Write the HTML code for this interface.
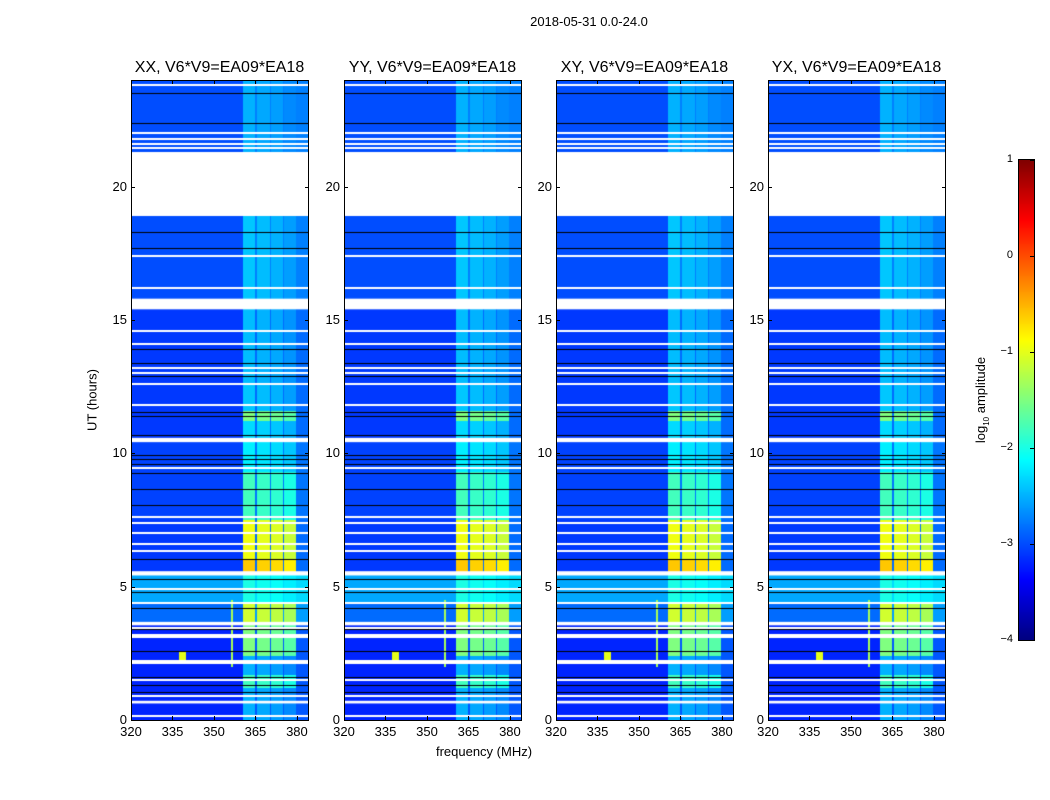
<!DOCTYPE html>
<html><head><meta charset="utf-8"><style>
body{margin:0;background:#fff;}
#root{position:relative;width:1050px;height:800px;background:#fff;font-family:"Liberation Sans",sans-serif;color:#000;overflow:hidden}
.t{position:absolute;white-space:nowrap}
canvas{position:absolute}
.frame{position:absolute;border:1px solid #000;box-sizing:border-box}
.tick{position:absolute;background:#000}
</style></head><body>
<div id="root">
<div class="t" style="left:489px;top:14px;width:200px;text-align:center;font-size:13px">2018-05-31 0.0-24.0</div>
<div class="t" style="left:92px;top:400px;font-size:13px;transform:translate(-50%,-50%) rotate(-90deg);transform-origin:center">UT (hours)</div>
<div class="t" style="left:384px;top:744px;width:200px;text-align:center;font-size:13px">frequency (MHz)</div>
<canvas id="cbar" width="15" height="480" style="left:1019px;top:160px"></canvas>
<div class="frame" style="left:1018px;top:159px;width:17px;height:482px"></div>
<div class="t" style="left:982px;top:400px;font-size:13px;transform:translate(-50%,-50%) rotate(-90deg)">log<sub style="font-size:8px">10</sub> amplitude</div>
</div>
<script>
// ---- data ----
const panelTitles = ["XX, V6*V9=EA09*EA18","YY, V6*V9=EA09*EA18","XY, V6*V9=EA09*EA18","YX, V6*V9=EA09*EA18"];
const xTicks = [320,335,350,365,380];
const yTicks = [0,5,10,15,20];
const cbarTicks = [1,0,-1,-2,-3,-4];
// [t0, t1, background log-amp, rfi log-amp]
const segments = [[0,1.2,-3.2,-2.5],[1.2,1.7,-3.2,-1.8],[1.7,2.4,-3.2,-2.5],[2.4,3.6,-3.2,-1.5],[3.6,4.4,-2.85,-1.1],[4.4,5.5,-2.55,-2.0],[5.5,6.0,-3.1,-0.6],[6.0,7.5,-3.1,-0.95],[7.5,9.3,-3.05,-1.8],[9.3,10.5,-3.05,-2.2],[10.5,11.2,-3.1,-2.3],[11.2,11.6,-3.1,-1.5],[11.6,12.6,-3.1,-2.4],[12.6,15.4,-3.1,-2.45],[15.8,18.9,-3.0,-2.4],[21.3,24,-3.0,-2.5]];
// rfi sub-bands [f0,f1,offset]
const rfiBands = [[360.5,365,0],[365.5,370.2,-0.05],[370.8,374.8,-0.1],[375.2,379.6,-0.2]];
const whiteGaps = [[18.9,21.3],[15.4,15.8],[0.62,0.72],[5.42,5.58],[3.55,3.68],[10.42,10.58]];
const whiteLines = [23.8,22.0,21.8,21.6,21.45,17.4,16.2,14.6,14.1,13.2,13.0,12.6,11.8,9.45,7.6,7.4,7.0,6.6,6.35,4.9,4.4,3.45,3.2,3.1,2.2,2.15,1.5,0.9,0.15];
const blackLines = [23.5,22.4,18.3,17.7,13.9,13.4,12.9,11.55,11.4,10.7,9.95,9.8,9.6,9.25,8.65,8.05,6.05,5.3,4.8,4.2,3.4,2.6,1.6,1.3,1.05];
// narrow features [f0,f1,t0,t1,level]
const features = [[356.2,357.0,2.0,4.5,-1.3],[337.5,339.8,2.2,2.6,-1.0]];

const panelLeft = [131,344,556,768];
const PW=177, PH=640, PT=80;
const fMin=320, fMax=384, tMin=0, tMax=24, vMin=-4, vMax=1;
const xs = f => (f-fMin)/(fMax-fMin)*PW;
const ys = t => PH-(t-tMin)/(tMax-tMin)*PH;

function jet(v){
  let x=Math.max(0,Math.min(1,(v-vMin)/(vMax-vMin)));
  const c=(a)=>Math.max(0,Math.min(1,a));
  const r=c(Math.min(4*x-1.5,-4*x+4.5)), g=c(Math.min(4*x-0.5,-4*x+3.5)), b=c(Math.min(4*x+0.5,-4*x+2.5));
  return [r*255,g*255,b*255];
}
function level(f,t){
  let seg=null;
  for(const s of segments) if(t>=s[0]&&t<s[1]) seg=s;
  if(!seg) return null;
  let v=seg[2];
  if(f>=360.5&&f<384) v=seg[2]+0.25;
  for(const b of rfiBands) if(f>=b[0]&&f<b[1]) v=Math.max(v,seg[3]+b[2]);
  for(const ft of features) if(f>=ft[0]&&f<ft[1]&&t>=ft[2]&&t<ft[3]) v=Math.max(v,ft[4]);
  return v;
}
const root=document.getElementById('root');
function add(tag,cls,style,name,text){
  const e=document.createElement(tag); if(cls)e.className=cls; e.style.cssText=style;
  if(text!==undefined)e.textContent=text; root.appendChild(e); return e;
}
panelLeft.forEach((L,pi)=>{
  const cv=document.createElement('canvas'); cv.width=PW; cv.height=PH;
  cv.style.left=L+'px'; cv.style.top=PT+'px';
  
  
  root.appendChild(cv);
  const ctx=cv.getContext('2d'); const img=ctx.createImageData(PW,PH);
  for(let py=0;py<PH;py++){
    const t=tMax-(py+0.5)/PH*(tMax-tMin);
    for(let px=0;px<PW;px++){
      const f=fMin+(px+0.5)/PW*(fMax-fMin);
      const v=level(f,t); const i=(py*PW+px)*4;
      let c=v===null?[255,255,255]:jet(v);
      img.data[i]=c[0];img.data[i+1]=c[1];img.data[i+2]=c[2];img.data[i+3]=255;
    }
  }
  ctx.putImageData(img,0,0);
  ctx.fillStyle='#fff';
  for(const g of whiteGaps) ctx.fillRect(0,ys(g[1]),PW,ys(g[0])-ys(g[1]));
  for(const w of whiteLines) ctx.fillRect(0,Math.round(ys(w))-1,PW,2);
  ctx.fillStyle='#000';
  for(const b of blackLines) ctx.fillRect(0,Math.round(ys(b)),PW,1);
  const fr=add('div','frame',`left:${L}px;top:${PT}px;width:${PW+1}px;height:${PH+1}px`);
  
  
  const ti=add('div','t',`left:${L-10}px;top:59px;width:${PW+20}px;text-align:center;font-size:16px`,null,panelTitles[pi]);
  
  
  xTicks.forEach(v=>{
    const x=L+xs(v);
    const tk=add('div','tick',`left:${x}px;top:${PT+PH-4}px;width:1px;height:4px`);
    
    
    add('div','tick',`left:${x}px;top:${PT}px;width:1px;height:4px`);
    const lb=add('div','t',`left:${x-20}px;top:${PT+PH+4}px;width:40px;text-align:center;font-size:13px`,null,String(v));
    
    
  });
  yTicks.forEach(v=>{
    const y=PT+ys(v);
    add('div','tick',`left:${L}px;top:${y}px;width:4px;height:1px`);
    add('div','tick',`left:${L+PW-3}px;top:${y}px;width:4px;height:1px`);
    const lb=add('div','t',`left:${L-44}px;top:${y-8}px;width:40px;text-align:right;font-size:13px`,null,String(v));
    
    
  });
});
// colorbar
const cb=document.getElementById('cbar').getContext('2d');
for(let py=0;py<480;py++){
  const v=vMax-(py+0.5)/480*(vMax-vMin); const c=jet(v);
  cb.fillStyle=`rgb(${c[0]|0},${c[1]|0},${c[2]|0})`; cb.fillRect(0,py,15,1);
}
cbarTicks.forEach(v=>{
  const y=160+(vMax-v)/(vMax-vMin)*480;
  const lb=add('div','t',`left:${975}px;top:${y-7}px;width:38px;text-align:right;font-size:11px`,null,(v<0?'\u2212'+(-v):String(v)));
  
  
  add('div','tick',`left:1030px;top:${y}px;width:4px;height:1px`);
});
</script>
</body></html>
